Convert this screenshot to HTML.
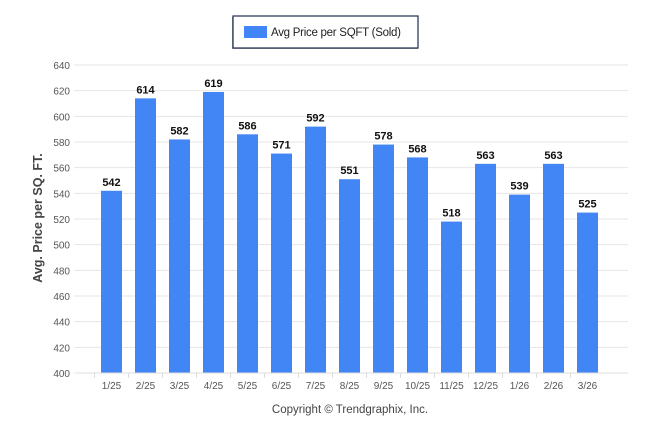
<!DOCTYPE html><html><head><style>body{margin:0;background:#fff}</style></head><body>
<svg width="646" height="434" xmlns="http://www.w3.org/2000/svg" font-family="Liberation Sans, sans-serif">
<rect x="232" y="17" width="186" height="32" fill="#aaa"/>
<rect x="233" y="16" width="185" height="32" fill="#fff" stroke="#1f2d4d" stroke-width="1.2"/>
<rect x="244" y="26" width="23" height="12" fill="#4285f4"/>
<text x="271" y="36" font-size="11.5" fill="#222" textLength="130">Avg Price per SQFT (Sold)</text>
<g id="g"></g>
<text transform="translate(42,218) rotate(-90)" text-anchor="middle" font-size="12.5" font-weight="bold" fill="#444">Avg. Price per SQ. FT.</text>
<text x="350" y="413" text-anchor="middle" font-size="11.5" fill="#444">Copyright © Trendgraphix, Inc.</text>
</svg>
<script>
var g=document.getElementById('g'),s='';
for(var i=0;i<=12;i++){var v=400+i*20,y=373-i*25.667;
s+='<line x1="74" x2="628" y1="'+y+'" y2="'+y+'" stroke="#e6e6e6"/>';
s+='<text x="70" y="'+(y+4)+'" font-size="10" fill="#555" text-anchor="end">'+v+'</text>';}
var d=[542,614,582,619,586,571,592,551,578,568,518,563,539,563,525],l=['1/25','2/25','3/25','4/25','5/25','6/25','7/25','8/25','9/25','10/25','11/25','12/25','1/26','2/26','3/26'];
for(i=0;i<15;i++){var c=111.5+34*i,t=373-(d[i]-400)*1.2833;
s+='<rect x="'+(c-10.5)+'" y="'+t+'" width="21" height="'+(373-t)+'" fill="#4285f4"/>';
s+='<text x="'+c+'" y="'+(t-5)+'" font-size="11" font-weight="bold" text-anchor="middle" fill="#111">'+d[i]+'</text>';
s+='<text x="'+c+'" y="389" font-size="10" text-anchor="middle" fill="#555">'+l[i]+'</text>';
s+='<line x1="'+(c-17)+'" x2="'+(c-17)+'" y1="373" y2="378" stroke="#ddd"/>';}
s+='<line x1="78" x2="628" y1="373" y2="373" stroke="#ddd"/>';
g.innerHTML=s;
</script>
</body></html>
